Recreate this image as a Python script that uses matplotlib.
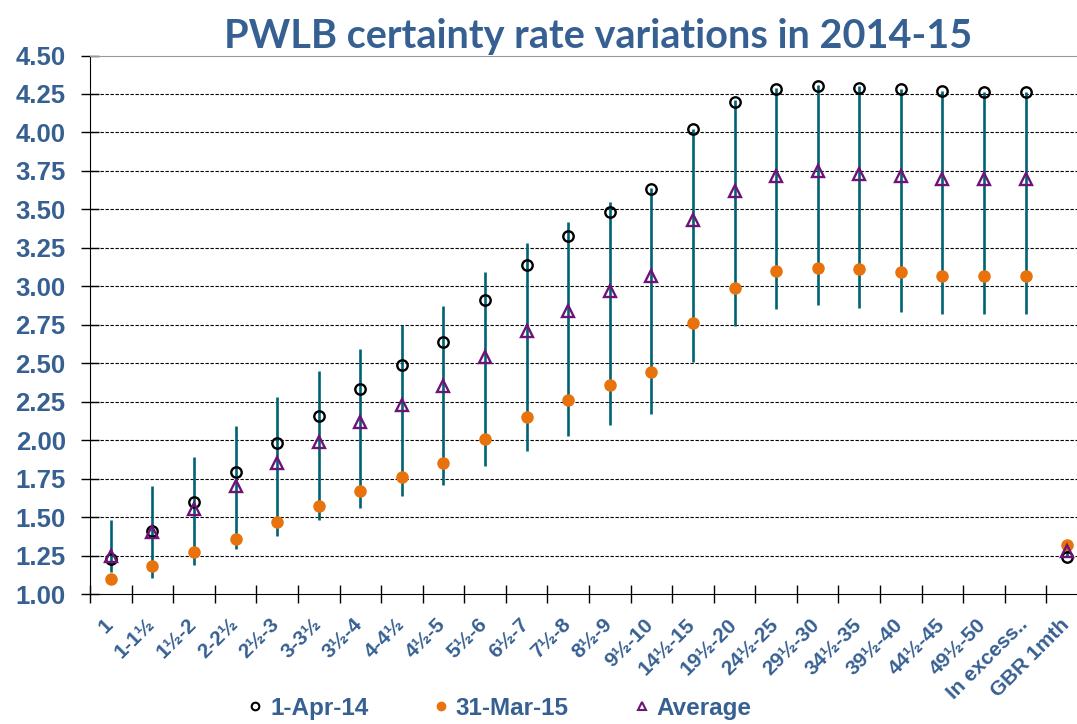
import numpy as np
import matplotlib
matplotlib.use('Agg')
import matplotlib.pyplot as plt
import matplotlib.transforms as mtransforms
from matplotlib.lines import Line2D

# ---- data ----
categories = ['1', '1-1½', '1½-2', '2-2½', '2½-3', '3-3½', '3½-4', '4-4½',
              '4½-5', '5½-6', '6½-7', '7½-8', '8½-9', '9½-10', '14½-15',
              '19½-20', '24½-25', '29½-30', '34½-35', '39½-40', '44½-45',
              '49½-50', 'In excess..', 'GBR 1mth']
apr14 = [1.23, 1.41, 1.60, 1.79, 1.98, 2.16, 2.33, 2.49, 2.64, 2.91, 3.14, 3.33,
         3.48, 3.63, 4.02, 4.20, 4.28, 4.30, 4.29, 4.28, 4.27, 4.26, 4.26, 1.24]
mar15 = [1.10, 1.18, 1.27, 1.36, 1.47, 1.57, 1.67, 1.76, 1.85, 2.01, 2.15, 2.26,
         2.36, 2.44, 2.76, 2.99, 3.10, 3.12, 3.11, 3.09, 3.07, 3.07, 3.07, 1.32]
average = [1.25, 1.40, 1.55, 1.70, 1.85, 1.99, 2.12, 2.23, 2.35, 2.54, 2.71, 2.84,
           2.97, 3.07, 3.43, 3.62, 3.72, 3.75, 3.73, 3.72, 3.70, 3.70, 3.70, 1.28]
high = [1.48, 1.70, 1.89, 2.09, 2.28, 2.45, 2.59, 2.75, 2.87, 3.09, 3.28, 3.42,
        3.55, 3.64, 4.02, 4.21, 4.29, 4.31, 4.30, 4.28, 4.27, 4.26, 4.26, 1.32]
low = [1.145, 1.105, 1.19, 1.29, 1.38, 1.48, 1.56, 1.64, 1.71, 1.83, 1.93, 2.03,
       2.10, 2.17, 2.51, 2.74, 2.85, 2.88, 2.86, 2.83, 2.82, 2.82, 2.82, 1.24]
yticks = [1.00, 1.25, 1.50, 1.75, 2.00, 2.25, 2.50, 2.75, 3.00, 3.25, 3.50,
          3.75, 4.00, 4.25, 4.50]

BLUE = '#376092'
TEAL = '#006373'
ORANGE = '#E8720C'
PURPLE = '#6E1479'

fig = plt.figure(figsize=(10.77, 7.24), dpi=100)
fig.patch.set_facecolor('white')
ax = fig.add_axes([90 / 1077, 130 / 724, 998 / 1077, 538.5 / 724])

x = np.arange(len(categories))

# high-low range lines
ax.vlines(x, low, high, color=TEAL, linewidth=1.9, zorder=3)
ax.plot(x, mar15, 'o', color=ORANGE, ms=8, mec=ORANGE, zorder=4)
ax.plot(x, apr14, 'o', mfc='none', mec='black', ms=7.5, mew=1.7, zorder=5)
ax.plot(x, average, '^', mfc='none', mec=PURPLE, ms=8.5, mew=1.7, zorder=6)

ax.set_xlim(-0.5, len(categories) - 0.5)
ax.set_ylim(1.0, 4.5)
ax.set_yticks(yticks)
ax.set_yticklabels([f'{v:.2f}' for v in yticks])
ax.set_xticks(np.arange(len(categories) + 1) - 0.5, minor=False)
ax.set_xticklabels([])
ax.set_xticks(x, minor=True)
ax.set_xticklabels(categories, minor=True, rotation=45, ha='right', va='top')

ax.tick_params(axis='y', direction='inout', length=13, width=1, pad=11,
               labelsize=18.5, labelcolor=BLUE)
ax.tick_params(axis='x', which='major', direction='inout', length=13, width=1)
ax.tick_params(axis='x', which='minor', length=0, pad=15,
               labelsize=15, labelcolor=BLUE)
shift = mtransforms.ScaledTranslation(6 / 100, 0, fig.dpi_scale_trans)
for lab in ax.get_xticklabels(minor=True):
    lab.set_transform(lab.get_transform() + shift)
for lab in ax.get_yticklabels() + ax.get_xticklabels(minor=True):
    lab.set_fontweight('bold')
    lab.set_family('Liberation Sans')

# dashed gridlines
for v in yticks[1:-1]:
    ax.axhline(v, color='black', linewidth=0.8, linestyle=(0, (3, 1.5)), zorder=1)

ax.spines['top'].set_color('#999999')
ax.spines['right'].set_visible(False)
ax.spines['left'].set_color('black')
ax.spines['bottom'].set_color('black')

fig.text(0.555, 0.950, 'PWLB certainty rate variations in 2014-15',
         ha='center', va='center', fontsize=28.5, fontweight='bold',
         family='Lato', color=BLUE)

handles = [
    Line2D([], [], linestyle='none', marker='o', mfc='none', mec='black', ms=5.5, mew=1.5),
    Line2D([], [], linestyle='none', marker='o', color=ORANGE, ms=6),
    Line2D([], [], linestyle='none', marker='^', mfc='none', mec=PURPLE, ms=6, mew=1.5),
]
leg = fig.legend(handles, ['1-Apr-14', '31-Mar-15', 'Average'], ncol=3,
                 loc='center', bbox_to_anchor=(0.464, 0.022), frameon=False,
                 handlelength=0.6, handletextpad=0.3, columnspacing=2.7,
                 prop={'family': 'Liberation Sans', 'weight': 'bold', 'size': 17.5})
for t in leg.get_texts():
    t.set_color(BLUE)

fig.savefig('out.png', dpi=100, facecolor='white')
